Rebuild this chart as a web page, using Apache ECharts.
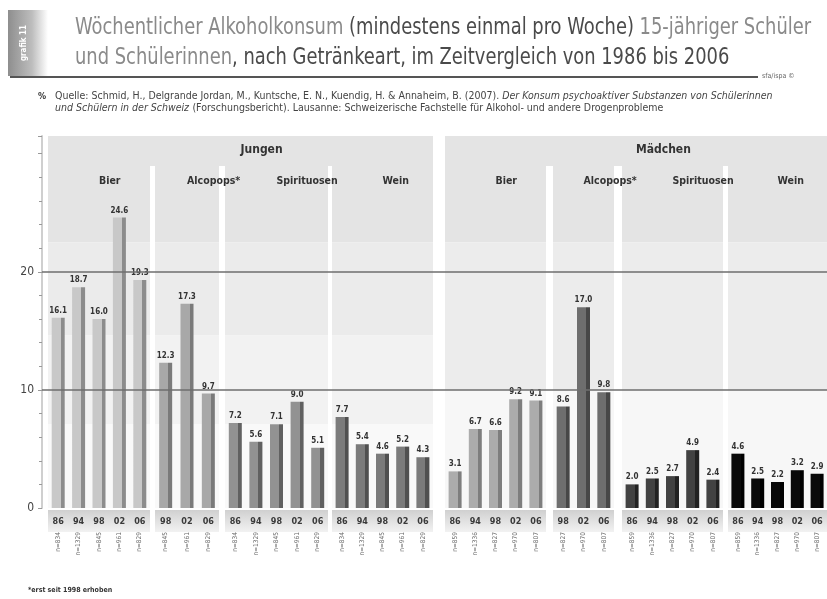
<!DOCTYPE html>
<html>
<head>
<meta charset="utf-8">
<script src="https://cdn.jsdelivr.net/npm/echarts@6/dist/echarts.min.js"></script>
<style>
  html, body { margin: 0; padding: 0; background: #fff; }
  #main { width: 827px; height: 599px; }
</style>
</head>
<body>
<div id="main"></div>
<script>
var groups = ['Bier', 'Alcopops*', 'Spirituosen', 'Wein'];
var panels = ['Jungen', 'Mädchen'];
var years5 = ['86', '94', '98', '02', '06'];
var years3 = ['98', '02', '06'];

var jungenBier = [16.1, 18.7, 16.0, 24.6, 19.3];
var jungenAlcopops = [12.3, 17.3, 9.7];
var jungenSpirituosen = [7.2, 5.6, 7.1, 9.0, 5.1];
var jungenWein = [7.7, 5.4, 4.6, 5.2, 4.3];

var maedchenBier = [3.1, 6.7, 6.6, 9.2, 9.1];
var maedchenAlcopops = [8.6, 17.0, 9.8];
var maedchenSpirituosen = [2.0, 2.5, 2.7, 4.9, 2.4];
var maedchenWein = [4.6, 2.5, 2.2, 3.2, 2.9];

var nJungen = ['n=834', 'n=1329', 'n=845', 'n=961', 'n=829'];
var nMaedchen = ['n=859', 'n=1336', 'n=827', 'n=970', 'n=807'];

var yTicks = [0, 10, 20];

var FONT = "'Liberation Sans Narrow', 'DejaVu Sans Condensed', sans-serif";
var GRID_TOP = 136, GRID_BOTTOM = 91, Y_MAX = 31.5;

// Spalten: Lage und Farben
var columns = [
  {panel: 0, name: groups[0], years: years5, values: jungenBier,          n: nJungen,            left: 48,  width: 102, color: '#c8c8c8', edge: '#8c8c8c'},
  {panel: 0, name: groups[1], years: years3, values: jungenAlcopops,      n: nJungen.slice(2),   left: 155, width: 64,  color: '#a8a8a8', edge: '#7a7a7a'},
  {panel: 0, name: groups[2], years: years5, values: jungenSpirituosen,   n: nJungen,            left: 225, width: 103, color: '#929292', edge: '#616161'},
  {panel: 0, name: groups[3], years: years5, values: jungenWein,          n: nJungen,            left: 332, width: 101, color: '#7b7b7b', edge: '#505050'},
  {panel: 1, name: groups[0], years: years5, values: maedchenBier,        n: nMaedchen,          left: 445, width: 101, color: '#acacac', edge: '#7e7e7e'},
  {panel: 1, name: groups[1], years: years3, values: maedchenAlcopops,    n: nMaedchen.slice(2), left: 553, width: 61,  color: '#6e6e6e', edge: '#474747'},
  {panel: 1, name: groups[2], years: years5, values: maedchenSpirituosen, n: nMaedchen,          left: 622, width: 101, color: '#424242', edge: '#222222'},
  {panel: 1, name: groups[3], years: years5, values: maedchenWein,        n: nMaedchen,          left: 728, width: 99,  color: '#0a0a0a', edge: '#000000'}
];

var bands = [
  [[[{yAxis: 22.5}, {yAxis: Y_MAX}], '#e4e4e4'], [[{yAxis: 14.6}, {yAxis: 22.5}], '#ebebeb'],
   [[{yAxis: 7.1}, {yAxis: 14.6}], '#f2f2f2'], [[{yAxis: 0}, {yAxis: 7.1}], '#f9f9f9']],
  [[[{yAxis: 22.5}, {yAxis: Y_MAX}], '#e4e4e4'], [[{yAxis: 10}, {yAxis: 22.5}], '#ececec'],
   [[{yAxis: 0}, {yAxis: 10}], '#f7f7f7']]
];
var panelBox = [[48, 433], [445, 827]];

var grid = [], xAxis = [], yAxis = [], series = [], graphic = [];

columns.forEach(function (c, i) {
  grid.push({left: c.left, width: c.width, top: GRID_TOP, bottom: GRID_BOTTOM});
  xAxis.push({
    gridIndex: i, type: 'category', data: c.years,
    axisLine: {show: false}, axisTick: {show: false},
    axisLabel: {interval: 0, margin: 9, fontSize: 9, fontWeight: 'bold', color: '#3a3a3a', fontFamily: FONT}
  });
  xAxis.push({
    gridIndex: i, type: 'category', data: c.n, position: 'bottom', offset: 22,
    axisLine: {show: false}, axisTick: {show: false},
    axisLabel: {interval: 0, rotate: 90, margin: 2, fontSize: 6.5, color: '#6a6a6a', fontFamily: FONT}
  });
  yAxis.push({gridIndex: i, type: 'value', min: 0, max: Y_MAX, show: false, splitLine: {show: false}});
  series.push({
    type: 'bar', xAxisIndex: 2 * i, yAxisIndex: i, data: c.values, barWidth: 13, z: 2,
    itemStyle: {
      color: {type: 'linear', x: 0, y: 0, x2: 1, y2: 0, colorStops: [
        {offset: 0, color: c.color}, {offset: 0.7, color: c.color},
        {offset: 0.7, color: c.edge}, {offset: 1, color: c.edge}]}
    },
    label: {
      show: true, position: 'top', distance: 3, fontSize: 8, fontWeight: 'bold', color: '#333', fontFamily: FONT,
      formatter: function (p) { return p.value.toFixed(1); }
    },
    markArea: {
      silent: true,
      data: bands[c.panel].map(function (b) {
        return [Object.assign({itemStyle: {color: b[1]}}, b[0][0]), b[0][1]];
      })
    }
  });
  // Beschriftungsband unter den Balken
  graphic.push({
    type: 'rect', z: -10, shape: {x: c.left, y: 510, width: c.width, height: 22},
    style: {fill: {type: 'linear', x: 0, y: 0, x2: 0, y2: 1, colorStops: [
      {offset: 0, color: '#d0d0d0'}, {offset: 1, color: '#f2f2f2'}]}}
  });
  graphic.push({
    type: 'text', z: 50, left: c.left + c.width / 2, top: 176,
    style: {text: c.name, fill: '#333', font: 'bold 10.5px ' + FONT, textAlign: 'center'}
  });
});

panels.forEach(function (p, k) {
  var b = panelBox[k];
  graphic.push({type: 'rect', z: -10, shape: {x: b[0], y: GRID_TOP, width: b[1] - b[0], height: 30}, style: {fill: '#e4e4e4'}});
  graphic.push({
    type: 'text', z: 50, left: (b[0] + b[1]) / 2, top: 144,
    style: {text: p, fill: '#333', font: 'bold 12px ' + FONT, textAlign: 'center'}
  });
});

// Achse und Hilfslinien
var ai = columns.length;
grid.push({left: 42, right: 0, top: GRID_TOP, bottom: GRID_BOTTOM});
xAxis.push({gridIndex: ai, type: 'value', min: 0, max: 1, show: false});
yAxis.push({
  gridIndex: ai, type: 'value', min: 0, max: Y_MAX, interval: 10,
  axisLine: {show: true, lineStyle: {color: '#cfcfcf', width: 2}},
  axisTick: {show: true, length: 4, lineStyle: {color: '#999'}},
  minorTick: {show: true, splitNumber: 5, length: 3, lineStyle: {color: '#999'}},
  splitLine: {show: false},
  axisLabel: {
    margin: 8, fontSize: 12, color: '#444', fontFamily: FONT,
    formatter: function (v) { return yTicks.indexOf(v) >= 0 ? String(v) : ''; }
  }
});
series.push({
  type: 'line', xAxisIndex: 2 * ai, yAxisIndex: ai, data: [[0, 0]], symbol: 'none',
  lineStyle: {opacity: 0}, z: 5, silent: true,
  markLine: {
    silent: true, symbol: 'none', label: {show: false},
    lineStyle: {color: '#6e6e6e', width: 1.5, type: 'solid'},
    data: [{yAxis: 10}, {yAxis: 20}]
  }
});

// Kopf
graphic.push({
  type: 'rect', z: -5, shape: {x: 8, y: 10, width: 40, height: 66},
  style: {fill: {type: 'linear', x: 0, y: 0, x2: 1, y2: 0, colorStops: [
    {offset: 0, color: '#8e8e8e'}, {offset: 0.6, color: '#bdbdbd'}, {offset: 1, color: '#ffffff'}]}}
});
graphic.push({
  type: 'text', z: 50, x: 24, y: 43, rotation: Math.PI / 2,
  style: {text: 'grafik 11', fill: '#fff', font: 'bold 8px ' + FONT, textAlign: 'center', textVerticalAlign: 'middle'}
});
graphic.push({
  type: 'text', z: 50, x: 75, y: 13, scaleX: 0.865,
  style: {
    text: '{g|Wöchentlicher Alkoholkonsum }{d|(mindestens einmal pro Woche)}{g| 15-jähriger Schüler}\n' +
          '{g|und Schülerinnen}{d|, nach Getränkeart, im Zeitvergleich von 1986 bis 2006}',
    rich: {
      g: {fontSize: 23, fontFamily: FONT, fill: '#8a8a8a', lineHeight: 30},
      d: {fontSize: 23, fontFamily: FONT, fill: '#4a4a4a', lineHeight: 30}
    }
  }
});
graphic.push({type: 'rect', shape: {x: 10, y: 76, width: 748, height: 2}, style: {fill: '#555'}});
graphic.push({type: 'text', z: 50, left: 762, top: 73, style: {text: 'sfa/ispa ©', fill: '#666', font: '7px ' + FONT}});
graphic.push({type: 'text', z: 50, left: 38, top: 92, style: {text: '%', fill: '#333', font: 'bold 9px ' + FONT}});
graphic.push({
  type: 'text', z: 50, x: 55, y: 90,
  style: {
    text: '{n|Quelle: Schmid, H., Delgrande Jordan, M., Kuntsche, E. N., Kuendig, H. & Annaheim, B. (2007). }{i|Der Konsum psychoaktiver Substanzen von Schülerinnen}\n' +
          '{i|und Schülern in der Schweiz} {n|(Forschungsbericht). Lausanne: Schweizerische Fachstelle für Alkohol- und andere Drogenprobleme}',
    rich: {
      n: {fontSize: 10.5, fontFamily: FONT, fill: '#444', lineHeight: 12},
      i: {fontSize: 10.5, fontFamily: FONT, fontStyle: 'italic', fill: '#444', lineHeight: 12}
    }
  }
});
graphic.push({type: 'text', z: 50, left: 28, top: 587, style: {text: '*erst seit 1998 erhoben', fill: '#333', font: 'bold 7px ' + FONT}});

var chart = echarts.init(document.getElementById('main'));
chart.setOption({
  animation: false,
  backgroundColor: '#fff',
  grid: grid, xAxis: xAxis, yAxis: yAxis, series: series, graphic: graphic
});
</script>
</body>
</html>
